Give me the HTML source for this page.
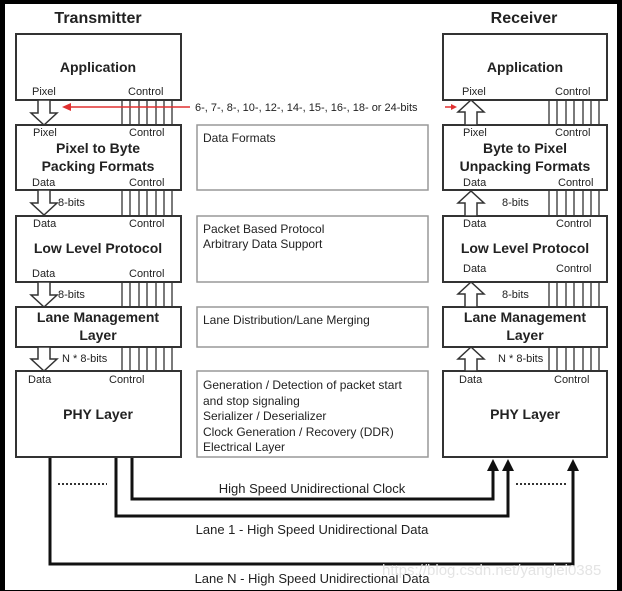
<!DOCTYPE html>
<html><head><meta charset="utf-8"><style>
body{margin:0;background:#000;}
svg{display:block}
text{font-family:"Liberation Sans",Arial,sans-serif;fill:#222}
.b{font-weight:bold;font-size:14px}
.s{font-size:11px}
.m{font-size:12px}
</style></head><body>
<svg width="622" height="591" viewBox="0 0 622 591">
<rect x="0" y="0" width="622" height="591" fill="#000"/>
<rect x="5" y="4" width="612" height="586" fill="#fff"/>
<text x="98" y="23" class="b" style="font-size:16px" text-anchor="middle">Transmitter</text>
<text x="524" y="23" class="b" style="font-size:16px" text-anchor="middle">Receiver</text>
<g fill="none" stroke="#333" stroke-width="1.3">
<path d="M122 100V371M130 100V371M139 100V371M147 100V371M156 100V371M164 100V371M172 100V371"/>
<path d="M549 100V371M557 100V371M566 100V371M574 100V371M583 100V371M591 100V371M599 100V371"/>
</g>
<g fill="#fff" stroke="#333" stroke-width="2">
<rect x="16" y="34" width="165" height="66"/><rect x="16" y="125" width="165" height="65"/>
<rect x="16" y="216" width="165" height="66"/><rect x="16" y="307" width="165" height="40"/>
<rect x="16" y="371" width="165" height="86"/>
<rect x="443" y="34" width="164" height="66"/><rect x="443" y="125" width="164" height="65"/>
<rect x="443" y="216" width="164" height="66"/><rect x="443" y="307" width="164" height="40"/>
<rect x="443" y="371" width="164" height="86"/>
</g>
<g fill="#fff" stroke="#999" stroke-width="1.5">
<rect x="197" y="125" width="231" height="65"/><rect x="197" y="216" width="231" height="66"/>
<rect x="197" y="307" width="231" height="40"/><rect x="197" y="371" width="231" height="86"/>
</g>
<g fill="#fff" stroke="#333" stroke-width="1.5">
<path d="M38 100h12v13h7l-13 12l-13-12h7z"/>
<path d="M38 190h12v13h7l-13 12l-13-12h7z"/>
<path d="M38 282h12v13h7l-13 12l-13-12h7z"/>
<path d="M38 347h12v12h7l-13 12l-13-12h7z"/>
<path d="M465 125h12v-13h7l-13-12l-13 12h7z"/>
<path d="M465 216h12v-13h7l-13-12l-13 12h7z"/>
<path d="M465 307h12v-13h7l-13-12l-13 12h7z"/>
<path d="M465 371h12v-12h7l-13-12l-13 12h7z"/>
</g>
<path d="M190 107H66" stroke="#e03030" stroke-width="1.5"/><path d="M62 107l9-4v8z" fill="#e03030"/>
<path d="M445 107H452" stroke="#e03030" stroke-width="1.5"/><path d="M457 107l-6-3v6z" fill="#e03030"/>
<text x="195" y="111" class="s">6-, 7-, 8-, 10-, 12-, 14-, 15-, 16-, 18- or 24-bits</text>
<g class="s">
<text x="32" y="95" class="s">Pixel</text><text x="128" y="95" class="s">Control</text>
<text x="33" y="136" class="s">Pixel</text><text x="129" y="136" class="s">Control</text>
<text x="32" y="186" class="s">Data</text><text x="129" y="186" class="s">Control</text>
<text x="33" y="227" class="s">Data</text><text x="129" y="227" class="s">Control</text>
<text x="32" y="277" class="s">Data</text><text x="129" y="277" class="s">Control</text>
<text x="28" y="383" class="s">Data</text><text x="109" y="383" class="s">Control</text>
<text x="58" y="206" class="s">8-bits</text><text x="58" y="298" class="s">8-bits</text><text x="62" y="362" class="s">N * 8-bits</text>
<text x="462" y="95" class="s">Pixel</text><text x="555" y="95" class="s">Control</text>
<text x="463" y="136" class="s">Pixel</text><text x="555" y="136" class="s">Control</text>
<text x="463" y="186" class="s">Data</text><text x="558" y="186" class="s">Control</text>
<text x="463" y="227" class="s">Data</text><text x="556" y="227" class="s">Control</text>
<text x="463" y="272" class="s">Data</text><text x="556" y="272" class="s">Control</text>
<text x="459" y="383" class="s">Data</text><text x="554" y="383" class="s">Control</text>
<text x="502" y="206" class="s">8-bits</text><text x="502" y="298" class="s">8-bits</text><text x="498" y="362" class="s">N * 8-bits</text>
</g>
<g class="b" text-anchor="middle">
<text x="98" y="72" class="b" text-anchor="middle">Application</text>
<text x="98" y="153" class="b" text-anchor="middle">Pixel to Byte</text>
<text x="98" y="171" class="b" text-anchor="middle">Packing Formats</text>
<text x="98" y="253" class="b" text-anchor="middle">Low Level Protocol</text>
<text x="98" y="322" class="b" text-anchor="middle">Lane Management</text>
<text x="98" y="340" class="b" text-anchor="middle">Layer</text>
<text x="98" y="419" class="b" text-anchor="middle">PHY Layer</text>
<text x="525" y="72" class="b" text-anchor="middle">Application</text>
<text x="525" y="153" class="b" text-anchor="middle">Byte to Pixel</text>
<text x="525" y="171" class="b" text-anchor="middle">Unpacking Formats</text>
<text x="525" y="253" class="b" text-anchor="middle">Low Level Protocol</text>
<text x="525" y="322" class="b" text-anchor="middle">Lane Management</text>
<text x="525" y="340" class="b" text-anchor="middle">Layer</text>
<text x="525" y="419" class="b" text-anchor="middle">PHY Layer</text>
</g>
<text x="203" y="142" class="m">Data Formats</text>
<text x="203" y="233" class="m">Packet Based Protocol</text>
<text x="203" y="248" class="m">Arbitrary Data Support</text>
<text x="203" y="324" class="m">Lane Distribution/Lane Merging</text>
<text x="203" y="389" class="m">Generation / Detection of packet start</text>
<text x="203" y="405" class="m">and stop signaling</text>
<text x="203" y="420" class="m">Serializer / Deserializer</text>
<text x="203" y="436" class="m">Clock Generation / Recovery (DDR)</text>
<text x="203" y="451" class="m">Electrical Layer</text>
<g fill="none" stroke="#111" stroke-width="3">
<path d="M132 458V499H493V468"/>
<path d="M116 458V516H508V468"/>
<path d="M50 458V564H573V468"/>
</g>
<g fill="#111"><path d="M493 459l-6 12h12z"/><path d="M508 459l-6 12h12z"/><path d="M573 459l-6 12h12z"/></g>
<path d="M58 484H107M516 484H566" stroke="#333" stroke-width="2" stroke-dasharray="2 2"/>
<text x="312" y="493" class="m" style="font-size:13px" text-anchor="middle">High Speed Unidirectional Clock</text>
<text x="312" y="534" class="m" style="font-size:13px" text-anchor="middle">Lane 1 - High Speed Unidirectional Data</text>
<text x="312" y="583" class="m" style="font-size:13px" text-anchor="middle">Lane N - High Speed Unidirectional Data</text>
<text x="382" y="575" style="font-size:15px;fill:#e4e4e4">https://blog.csdn.net/yanglei0385</text>
</svg>
</body></html>
